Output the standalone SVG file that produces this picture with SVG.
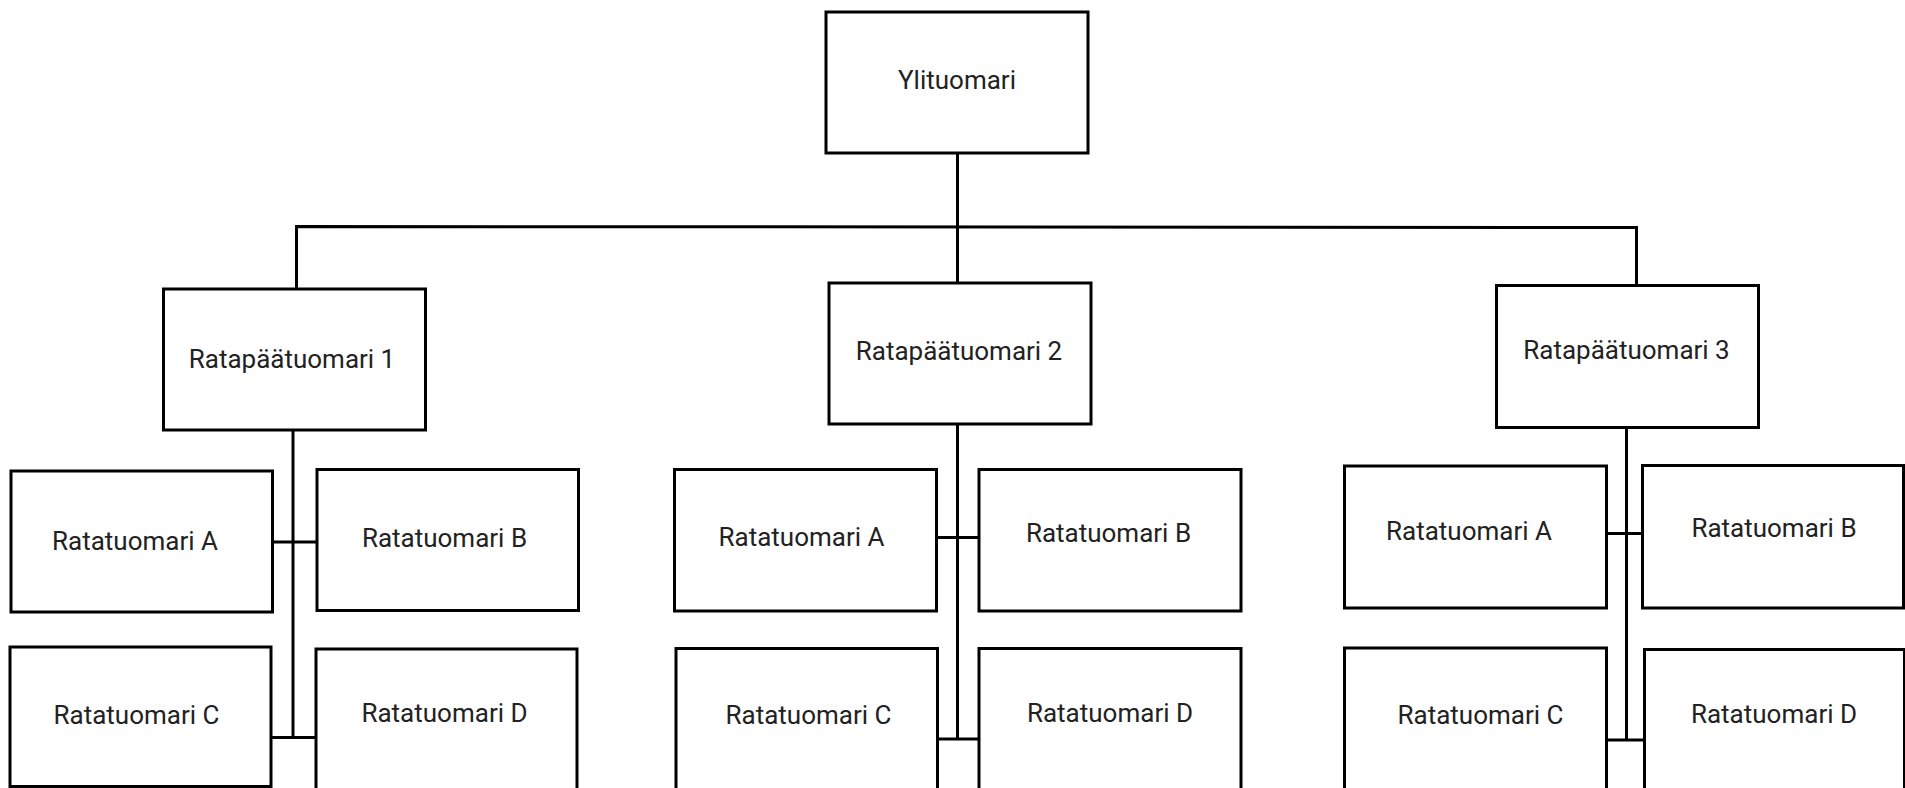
<svg xmlns="http://www.w3.org/2000/svg" width="1905" height="788" viewBox="0 0 1905 788">
<style>
.box{fill:#fff;stroke:#000;stroke-width:3}
.lbl{font-family:Roboto,"Liberation Sans",sans-serif;font-size:26px;fill:#222;text-anchor:middle}
.ln{stroke:#000;stroke-width:3;fill:none}
</style>
<rect width="1905" height="788" fill="#fff"/>
<g id="connectors">
<path class="ln" d="M957.5 154V283"/>
<path class="ln" d="M296.5 289V226.5L1636.5 227.5V285"/>
<path class="ln" d="M293 430V737.5M272.5 542H317M271 737.5H316"/>
<path class="ln" d="M957.5 424V739M936.5 537.5H979M937.5 739H979"/>
<path class="ln" d="M1626.5 428V740M1607 533.5H1642.5M1607 740H1644.5"/>
</g>
<g id="ylituomari"><rect class="box" x="826" y="12" width="262" height="141"/><text class="lbl" x="957" y="89">Ylituomari</text></g>
<g id="rpt1"><rect class="box" x="163.5" y="289" width="262" height="141"/><text class="lbl" x="292" y="368">Ratapäätuomari 1</text></g>
<g id="rpt2"><rect class="box" x="829" y="283" width="262" height="141"/><text class="lbl" x="959" y="360">Ratapäätuomari 2</text></g>
<g id="rpt3"><rect class="box" x="1496.5" y="285.5" width="262" height="142"/><text class="lbl" x="1626.5" y="359">Ratapäätuomari 3</text></g>
<g id="r1a"><rect class="box" x="11" y="471" width="261.5" height="141"/><text class="lbl" x="135" y="550">Ratatuomari A</text></g>
<g id="r1b"><rect class="box" x="317" y="469.5" width="261.5" height="141"/><text class="lbl" x="444.5" y="547">Ratatuomari B</text></g>
<g id="r1c"><rect class="box" x="10" y="647" width="261" height="139.5"/><text class="lbl" x="136.5" y="724">Ratatuomari C</text></g>
<g id="r1d"><rect class="box" x="316" y="649" width="261" height="160"/><text class="lbl" x="444.5" y="722">Ratatuomari D</text></g>
<g id="r2a"><rect class="box" x="674.5" y="469.5" width="262" height="141.5"/><text class="lbl" x="801.5" y="546">Ratatuomari A</text></g>
<g id="r2b"><rect class="box" x="979" y="469.5" width="262" height="141.5"/><text class="lbl" x="1108.5" y="542">Ratatuomari B</text></g>
<g id="r2c"><rect class="box" x="676" y="648.5" width="261.5" height="160"/><text class="lbl" x="808.5" y="724">Ratatuomari C</text></g>
<g id="r2d"><rect class="box" x="979" y="648.5" width="262" height="160"/><text class="lbl" x="1110" y="722">Ratatuomari D</text></g>
<g id="r3a"><rect class="box" x="1344.5" y="466" width="262" height="142"/><text class="lbl" x="1469" y="540">Ratatuomari A</text></g>
<g id="r3b"><rect class="box" x="1642.5" y="465.5" width="261" height="142.5"/><text class="lbl" x="1774" y="537">Ratatuomari B</text></g>
<g id="r3c"><rect class="box" x="1344.5" y="648" width="262" height="160"/><text class="lbl" x="1480.5" y="723.5">Ratatuomari C</text></g>
<g id="r3d"><rect class="box" x="1644.5" y="649.5" width="260" height="160"/><text class="lbl" x="1774" y="722.5">Ratatuomari D</text></g>
</svg>
